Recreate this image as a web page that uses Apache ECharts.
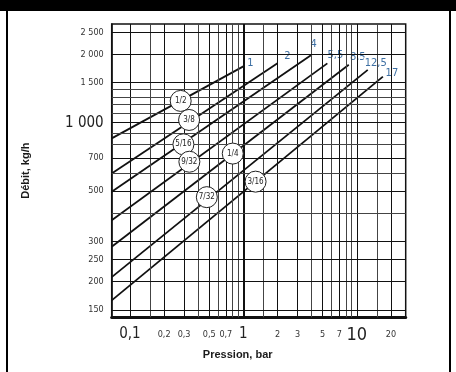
<!DOCTYPE html>
<html>
<head>
<meta charset="utf-8">
<script src="https://cdn.jsdelivr.net/npm/echarts@6/dist/echarts.min.js"></script>
<style>
html, body { margin: 0; padding: 0; background: #fff; }
#main { width: 456px; height: 372px; }
</style>
</head>
<body>
<div id="main"></div>
<script>
// diamètres de gicleur et pressions max
var nozzles = ['1/2', '3/8', '5/16', '9/32', '1/4', '7/32', '3/16'];
var maxPressure = [1, 2, 4, 5.5, 8.5, 12.5, 17];
var maxPressureText = ['1', '2', '4', '5,5', '8,5', '12,5', '17'];
var flowAtStart = [853, 598, 496, 372, 284, 209, 165];
var flowAtMax = [1770, 1829, 1990, 1825, 1800, 1708, 1596];
var circlePressure = [0.28, 0.332, 0.296, 0.334, 0.806, 0.476, 1.281];
var circleFlow = [1247, 1028, 803, 673, 731, 470, 550];

var pMin = 0.069, pMax = 27;
var qMin = 139, qMax = 2720;

var xTicks = [0.1, 0.2, 0.3, 0.5, 0.7, 1, 2, 3, 5, 7, 10, 20];
var yTicks = [150, 200, 250, 300, 500, 700, 1000, 1500, 2000, 2500];
var xGrid = [0.1, 0.15, 0.2, 0.3, 0.4, 0.5, 0.6, 0.7, 0.8, 0.9, 1, 1.5, 2, 3, 4, 5, 6, 7, 8, 9, 10, 15, 20];
var yGrid = [150, 200, 250, 300, 400, 500, 600, 700, 800, 900, 1000, 1100, 1200, 1300, 1400, 1500, 2000, 2500];

// décalage des étiquettes de fin de courbe
var endLabelOffset = [[7, -3], [10, -7], [2, -11], [8, -8], [9, -8], [8, -7], [9, -3]];

var narrow = "'Liberation Sans Narrow', 'DejaVu Sans Condensed', 'Liberation Sans', sans-serif";

var myChart = echarts.init(document.getElementById('main'));

function isTick(list, v) {
    for (var i = 0; i < list.length; i++) {
        if (Math.abs(list[i] - v) < 1e-6) return true;
    }
    return false;
}

var gridLines = [];
xGrid.forEach(function (v) {
    var major = isTick(xTicks, v);
    gridLines.push({ xAxis: v, lineStyle: { color: major ? '#111' : '#444', width: v === 1 ? 2 : 1, type: 'solid' } });
});
yGrid.forEach(function (v) {
    var major = isTick(yTicks, v);
    gridLines.push({ yAxis: v, lineStyle: { color: major ? '#111' : '#444', width: 1, type: 'solid' } });
});

var series = [{
    type: 'line',
    data: [],
    silent: true,
    z: 1,
    markLine: {
        silent: true,
        symbol: 'none',
        animation: false,
        label: { show: false },
        data: gridLines
    }
}];

nozzles.forEach(function (name, i) {
    series.push({
        name: name,
        type: 'line',
        z: 3,
        symbol: 'circle',
        symbolSize: 0,
        showSymbol: true,
        lineStyle: { color: '#111', width: 1.8 },
        itemStyle: { color: '#111' },
        data: [
            [pMin, flowAtStart[i]],
            {
                value: [maxPressure[i], flowAtMax[i]],
                label: {
                    show: true,
                    position: 'inside',
                    offset: endLabelOffset[i],
                    formatter: maxPressureText[i],
                    color: '#3d6fa3',
                    fontFamily: narrow,
                    fontSize: 11,
                    backgroundColor: '#fff',
                    padding: [0, 1]
                }
            }
        ],
        markPoint: {
            silent: true,
            animation: false,
            symbol: 'circle',
            symbolSize: 21,
            itemStyle: { color: '#fff', borderColor: '#222', borderWidth: 1 },
            label: {
                show: true,
                formatter: name,
                color: '#222',
                fontFamily: narrow,
                fontSize: 8
            },
            data: [{ coord: [circlePressure[i], circleFlow[i]] }]
        }
    });
});

function frNumber(v) {
    var s = String(Math.round(v * 100) / 100).replace('.', ',');
    if (v >= 1000) {
        s = s.replace(/\B(?=(\d{3})+(?!\d))/g, ' ');
    }
    return s;
}

var option = {
    animation: false,
    backgroundColor: '#fff',
    graphic: [
        { type: 'rect', shape: { x: 0, y: 0, width: 456, height: 11 }, style: { fill: '#000' } },
        { type: 'rect', shape: { x: 6, y: 0, width: 2, height: 372 }, style: { fill: '#000' } },
        { type: 'rect', shape: { x: 449, y: 0, width: 2, height: 372 }, style: { fill: '#000' } }
    ],
    grid: {
        left: 111.7,
        right: 50.3,
        top: 24,
        bottom: 54.7,
        show: true,
        borderColor: '#111',
        borderWidth: 1.5,
        containLabel: false
    },
    xAxis: {
        type: 'log',
        logBase: 10,
        min: pMin,
        max: pMax,
        name: 'Pression, bar',
        nameLocation: 'middle',
        nameGap: 31,
        nameTextStyle: {
            fontFamily: 'Liberation Sans',
            fontWeight: 'bold',
            fontSize: 11,
            color: '#1a1a1a',
            padding: [0, 42, 0, 0]
        },
        axisLine: { show: true, onZero: false, lineStyle: { color: '#111', width: 3 } },
        axisTick: { show: false, customValues: xTicks },
        splitLine: { show: false },
        axisLabel: {
            customValues: xTicks,
            margin: 9,
            formatter: function (v) {
                var t = frNumber(v);
                if (Math.abs(v - 10) < 1e-6) return '{huge|' + t + '}';
                if (Math.abs(v - 0.1) < 1e-6 || Math.abs(v - 1) < 1e-6) return '{big|' + t + '}';
                return '{small|' + t + '}';
            },
            rich: {
                small: { fontFamily: narrow, fontSize: 9, color: '#333', padding: [4, 0, 0, 0] },
                big: { fontFamily: narrow, fontSize: 15, color: '#222' },
                huge: { fontFamily: narrow, fontSize: 18, color: '#222' }
            }
        }
    },
    yAxis: {
        type: 'log',
        logBase: 10,
        min: qMin,
        max: qMax,
        name: 'Débit, kg/h',
        nameLocation: 'middle',
        nameRotate: 90,
        nameGap: 80,
        nameTextStyle: {
            fontFamily: 'Liberation Sans',
            fontWeight: 'bold',
            fontSize: 11,
            color: '#1a1a1a'
        },
        axisLine: { show: true, lineStyle: { color: '#111', width: 1.5 } },
        axisTick: { show: false, customValues: yTicks },
        splitLine: { show: false },
        axisLabel: {
            customValues: yTicks,
            margin: 8,
            formatter: function (v) {
                var t = frNumber(v);
                if (Math.abs(v - 1000) < 1e-6) return '{big|' + t + '}';
                return '{small|' + t + '}';
            },
            rich: {
                small: { fontFamily: narrow, fontSize: 9, color: '#333' },
                big: { fontFamily: narrow, fontSize: 15, color: '#222' }
            }
        }
    },
    series: series
};

myChart.setOption(option);
</script>
</body>
</html>
